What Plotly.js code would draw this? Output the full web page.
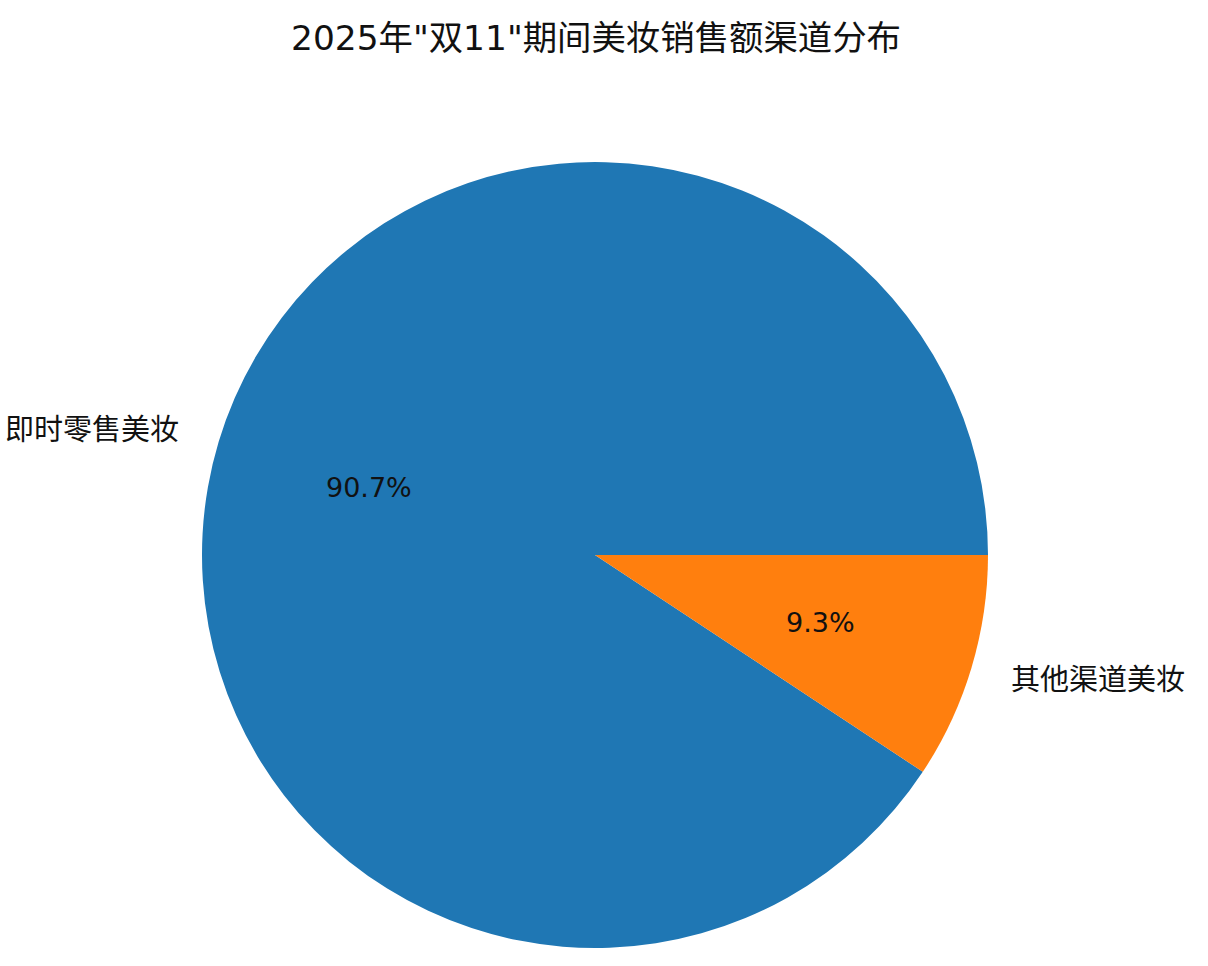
<!DOCTYPE html>
<html>
<head>
<meta charset="utf-8">
<script src="https://cdn.plot.ly/plotly-3.0.1.min.js"></script>
<style>html,body{margin:0;padding:0;background:#fff;}#chart{width:1208px;height:966px;}</style>
</head>
<body>
<div id="chart"></div>
<script>
const categories = ["即时零售美妆", "其他渠道美妆"];
const shares = [90.7, 9.3];
const colors = ["#1f77b4", "#ff7f0e"];
const chartTitle = '2025年"双11"期间美妆销售额渠道分布';

const W = 1208, H = 966;
const cx = 595, cy = 555, R = 393;
const font = "DejaVu Sans, Noto Sans CJK SC, sans-serif";

const total = shares.reduce((a, b) => a + b, 0);
const annotations = [];
let start = 0;
shares.forEach((v, i) => {
  const frac = v / total;
  const mid = (start + frac / 2) * 2 * Math.PI;
  start += frac;
  const c = Math.cos(mid), s = Math.sin(mid);
  const pos = (f) => ({ x: (cx + R * f * c) / W, y: (H - cy + R * f * s) / H });
  const lp = pos(1.1), pp = pos(0.6);
  annotations.push({
    xref: "paper", yref: "paper", x: lp.x, y: lp.y,
    xanchor: c < 0 ? "right" : "left", yanchor: "middle",
    text: categories[i], showarrow: false,
    font: { family: font, size: 29, color: "#111" }
  });
  annotations.push({
    xref: "paper", yref: "paper", x: pp.x, y: pp.y,
    xanchor: "center", yanchor: "middle",
    text: (frac * 100).toFixed(1) + "%", showarrow: false,
    font: { family: font, size: 27, color: "#111" }
  });
});
annotations.push({
  xref: "paper", yref: "paper", x: 596 / W, y: 1 - 38 / H,
  xanchor: "center", yanchor: "middle", showarrow: false,
  text: chartTitle, font: { family: font, size: 34.4, color: "#111" }
});

// matplotlib default: first slice starts at 3 o'clock and runs counterclockwise.
// Drawn here clockwise, so start where the first slice ends.
const firstFrac = shares[0] / total;
const trace = {
  type: "pie",
  labels: categories,
  values: shares,
  sort: false,
  direction: "clockwise",
  rotation: 90 + 360 * (1 - firstFrac),
  marker: { colors: colors, line: { width: 0 } },
  textinfo: "none",
  hoverinfo: "label+percent",
  domain: { x: [(cx - R) / W, (cx + R) / W], y: [(H - cy - R) / H, (H - cy + R) / H] },
  showlegend: false
};

Plotly.newPlot("chart", [trace], {
  width: W, height: H,
  margin: { l: 0, r: 0, t: 0, b: 0 },
  paper_bgcolor: "#fff",
  showlegend: false,
  annotations: annotations
}, { displayModeBar: false, staticPlot: true });
</script>
</body>
</html>
